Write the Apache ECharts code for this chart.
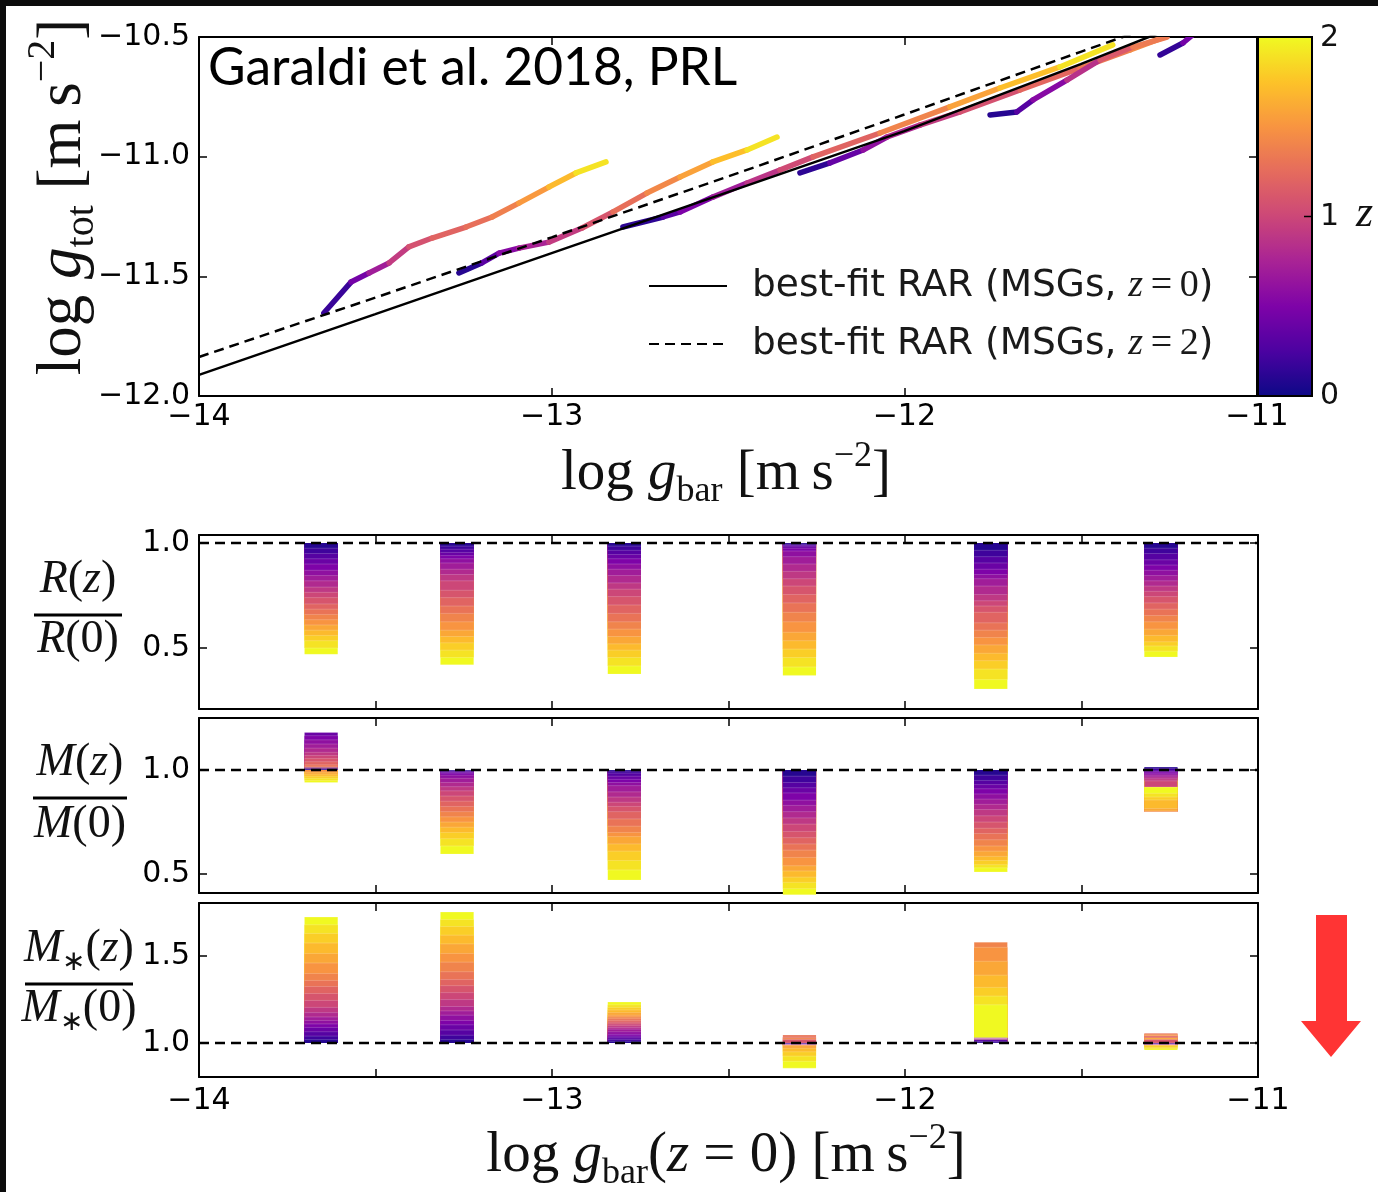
<!DOCTYPE html>
<html>
<head>
    <meta charset="UTF-8">
    <title>RAR evolution</title>
    <script src="https://cdn.jsdelivr.net/npm/echarts@6/dist/echarts.min.js"></script>
    <style>
        html, body { margin: 0; padding: 0; background: #fff; }
        #chart { width: 1378px; height: 1192px; }
    </style>
</head>
<body>
<div id="chart"></div>
<script>
    // bin centres (log g_bar at z=0) and the redshift steps of the bars
    var binX = [-13.654, -13.269, -12.795, -12.299, -11.757, -11.275];
    var zLevels = [0.1, 0.2, 0.3, 0.4, 0.5, 0.6, 0.7, 0.8, 0.9, 1.0, 1.1, 1.2, 1.3, 1.4, 1.5, 1.6, 1.7, 1.8, 1.9, 2.0];

    // R(z)/R(0), one row per bin, one value per z level
    var rRatio = [
        [0.975, 0.95, 0.925, 0.9, 0.87, 0.845, 0.82, 0.79, 0.765, 0.74, 0.71, 0.685, 0.66, 0.635, 0.61, 0.585, 0.56, 0.535, 0.50, 0.47],
        [0.985, 0.97, 0.955, 0.94, 0.925, 0.905, 0.875, 0.85, 0.82, 0.775, 0.74, 0.70, 0.665, 0.625, 0.585, 0.555, 0.525, 0.49, 0.455, 0.42],
        [0.985, 0.965, 0.945, 0.925, 0.9, 0.875, 0.845, 0.81, 0.78, 0.745, 0.705, 0.665, 0.625, 0.59, 0.555, 0.52, 0.49, 0.455, 0.415, 0.376],
        [0.995, 0.99, 0.985, 0.975, 0.962, 0.935, 0.90, 0.865, 0.83, 0.795, 0.755, 0.715, 0.67, 0.625, 0.575, 0.535, 0.495, 0.455, 0.41, 0.37],
        [0.965, 0.935, 0.905, 0.875, 0.85, 0.83, 0.795, 0.755, 0.725, 0.70, 0.67, 0.62, 0.585, 0.55, 0.515, 0.475, 0.44, 0.40, 0.35, 0.305],
        [0.975, 0.95, 0.92, 0.895, 0.87, 0.845, 0.82, 0.795, 0.77, 0.745, 0.715, 0.685, 0.655, 0.625, 0.59, 0.56, 0.53, 0.51, 0.485, 0.457]
    ];
    // M(z)/M(0)
    var mRatio = [
        [1.003, 1.008, 1.015, 1.18, 1.165, 1.145, 1.125, 1.105, 1.085, 1.07, 1.055, 1.04, 1.025, 1.012, 0.99, 0.98, 0.97, 0.96, 0.95, 0.94],
        [0.998, 0.995, 0.99, 0.985, 0.975, 0.96, 0.94, 0.92, 0.90, 0.875, 0.85, 0.825, 0.80, 0.775, 0.75, 0.725, 0.70, 0.67, 0.635, 0.596],
        [0.995, 0.985, 0.97, 0.955, 0.94, 0.925, 0.895, 0.87, 0.845, 0.825, 0.80, 0.765, 0.73, 0.70, 0.68, 0.645, 0.61, 0.565, 0.52, 0.471],
        [0.97, 0.94, 0.915, 0.89, 0.855, 0.83, 0.80, 0.77, 0.74, 0.705, 0.675, 0.645, 0.615, 0.58, 0.54, 0.515, 0.485, 0.46, 0.43, 0.40],
        [0.975, 0.95, 0.93, 0.91, 0.885, 0.86, 0.835, 0.81, 0.78, 0.75, 0.72, 0.695, 0.665, 0.635, 0.61, 0.585, 0.565, 0.545, 0.53, 0.51],
        [1.014, 1.008, 0.995, 0.99, 0.982, 0.975, 0.967, 0.958, 0.948, 0.918, 0.80, 0.80, 0.80, 0.798, 0.80, 0.803, 0.815, 0.856, 0.87, 0.888]
    ];
    // M*(z)/M*(0)
    var msRatio = [
        [1.02, 1.04, 1.065, 1.09, 1.11, 1.13, 1.15, 1.175, 1.205, 1.245, 1.285, 1.325, 1.36, 1.40, 1.46, 1.515, 1.575, 1.63, 1.68, 1.724],
        [1.02, 1.045, 1.075, 1.105, 1.13, 1.16, 1.185, 1.21, 1.25, 1.29, 1.33, 1.365, 1.41, 1.465, 1.515, 1.57, 1.62, 1.67, 1.71, 1.753],
        [1.01, 1.02, 1.03, 1.04, 1.05, 1.065, 1.08, 1.09, 1.10, 1.11, 1.12, 1.13, 1.14, 1.15, 1.16, 1.175, 1.19, 1.205, 1.22, 1.236],
        [0.999, 0.998, 0.997, 0.996, 0.995, 0.994, 0.993, 0.992, 0.991, 0.99, 1.02, 1.035, 1.046, 1.03, 0.985, 0.97, 0.95, 0.925, 0.895, 0.856],
        [1.005, 1.01, 1.02, 1.03, 1.029, 1.028, 1.027, 1.026, 1.025, 1.024, 1.023, 1.022, 1.021, 1.58, 1.55, 1.47, 1.39, 1.32, 1.27, 1.22],
        [0.999, 0.998, 0.997, 0.996, 0.995, 0.994, 0.993, 0.992, 0.991, 0.99, 1.02, 1.04, 1.057, 1.052, 1.045, 1.03, 0.985, 0.975, 0.968, 0.96]
    ];

    // galaxy tracks in the top panel: log g_bar, log g_tot, z
    var trackX = [
        [-13.646, -13.569, -13.518, -13.461, -13.405, -13.339, -13.243, -13.169, -13.093, -13.008, -12.931, -12.846],
        [-13.263, -13.198, -13.149, -13.093, -13.008, -12.914, -12.826, -12.730, -12.636, -12.543, -12.446, -12.361],
        [-12.798, -12.684, -12.636, -12.543, -12.446, -12.353, -12.259, -12.069, -11.871, -11.729, -11.559, -11.409],
        [-12.296, -12.211, -12.117, -12.049, -11.956, -11.842, -11.672, -11.502, -11.360, -11.261],
        [-11.757, -11.681, -11.635, -11.539, -11.445, -11.352, -11.255],
        [-11.275, -11.210, -11.176]
    ];
    var trackY = [
        [-11.653, -11.524, -11.486, -11.444, -11.377, -11.340, -11.294, -11.252, -11.194, -11.127, -11.068, -11.022],
        [-11.486, -11.444, -11.403, -11.382, -11.357, -11.298, -11.231, -11.152, -11.085, -11.022, -10.972, -10.918],
        [-11.294, -11.252, -11.231, -11.169, -11.110, -11.056, -11.001, -10.901, -10.792, -10.713, -10.625, -10.533],
        [-11.068, -11.026, -10.972, -10.918, -10.868, -10.813, -10.721, -10.630, -10.554, -10.500],
        [-10.826, -10.813, -10.763, -10.680, -10.596, -10.542, -10.500],
        [-10.575, -10.525, -10.483]
    ];
    var trackZ = [
        [0, 0.35, 0.55, 0.85, 1.0, 1.15, 1.25, 1.3, 1.45, 1.6, 1.8, 2.0],
        [0, 0.2, 0.45, 0.65, 0.85, 1.0, 1.2, 1.35, 1.5, 1.65, 1.8, 2.0],
        [0, 0.25, 0.4, 0.6, 0.8, 0.95, 1.1, 1.3, 1.5, 1.65, 1.8, 2.0],
        [0, 0.25, 0.5, 0.7, 0.85, 1.0, 1.15, 1.3, 1.4, 1.5],
        [0, 0.2, 0.4, 0.7, 1.0, 1.25, 1.45],
        [0, 0.3, 0.6]
    ];

    // best-fit RAR curves
    var rarX = [-14, -13.5, -13, -12.5, -12, -11.5, -11.3, -11];
    var rarZ0 = [-11.912, -11.658, -11.403, -11.148, -10.893, -10.613, -10.496, -10.33];
    var rarZ2 = [-11.837, -11.589, -11.337, -11.083, -10.824, -10.562, -10.458, -10.30];

    var plasma = ['#0d0887', '#4c02a1', '#7e03a8', '#a92395', '#cc4778', '#e56b5d', '#f89441', '#fdc328', '#f0f921'];
    var serif = 'Liberation Serif';
    var sans = 'DejaVu Sans';
    var barW = 0.094;
    var MINUS = '\u2212';

    function pairs(xs, ys) {
        return xs.map(function (x, i) { return [x, ys[i]]; });
    }

    function segData() {
        var out = [];
        for (var t = 0; t < trackX.length; t++) {
            for (var i = 0; i < trackX[t].length - 1; i++) {
                out.push([trackX[t][i], trackY[t][i], (trackZ[t][i] + trackZ[t][i + 1]) / 2,
                    trackX[t][i + 1], trackY[t][i + 1]]);
            }
        }
        return out;
    }

    // longest bands first so shorter ones paint over them
    function bandData(ratios) {
        var out = [];
        ratios.forEach(function (row, b) {
            row.forEach(function (v, k) { out.push([binX[b], v, zLevels[k]]); });
        });
        out.sort(function (p, q) { return Math.abs(q[1] - 1) - Math.abs(p[1] - 1); });
        return out;
    }

    function renderSeg(params, api) {
        var a = api.coord([api.value(0), api.value(1)]);
        var b = api.coord([api.value(3), api.value(4)]);
        return {
            type: 'line',
            shape: {x1: a[0], y1: a[1], x2: b[0], y2: b[1]},
            style: {stroke: api.visual('color'), lineWidth: 5.5, lineCap: 'round'}
        };
    }

    function renderBand(params, api) {
        var x = api.value(0), v = api.value(1);
        var a = api.coord([x - barW / 2, 1]);
        var b = api.coord([x + barW / 2, v]);
        return {
            type: 'group',
            children: [{
                type: 'rect',
                shape: {x: a[0], y: Math.min(a[1], b[1]), width: b[0] - a[0], height: Math.abs(b[1] - a[1])},
                style: {fill: api.visual('color')}
            }, {
                type: 'line',
                shape: {x1: a[0], y1: b[1], x2: b[0], y2: b[1]},
                style: {stroke: 'rgba(255,255,255,0.2)', lineWidth: 1}
            }]
        };
    }

    function fmt1(v) { return v.toFixed(1).replace('-', MINUS); }
    function fmtInt(v) { return Math.abs(v - Math.round(v)) < 1e-6 ? String(Math.round(v)).replace('-', MINUS) : ''; }

    var tickStyle = {show: true, inside: true, length: 8, lineStyle: {color: '#000', width: 1.5}};
    var lineStyleAx = {show: true, lineStyle: {color: '#000', width: 2}};
    var labelStyle = {fontFamily: sans, fontSize: 30, color: '#000'};

    var grids = [
        {left: 199, top: 37, width: 1058, height: 359},
        {left: 199, top: 535, width: 1059, height: 174},
        {left: 199, top: 718, width: 1059, height: 175},
        {left: 199, top: 903, width: 1059, height: 174}
    ];
    var yRange = [[-12, -10.5], [0.21, 1.038], [0.409, 1.25], [0.805, 1.805]];
    var yTicks = [null, [0.5, 1.0], [0.5, 1.0], [1.0, 1.5]];

    var xAxes = [], yAxes = [];
    grids.forEach(function (g, i) {
        var top = i === 0;
        var xl = Object.assign({}, labelStyle, {
            show: i === 0 || i === 3,
            margin: i === 0 ? 6 : 9,
            formatter: fmtInt
        });
        xAxes.push({
            type: 'value', gridIndex: i, min: -14, max: -11, interval: top ? 1 : 0.5,
            position: 'bottom', axisLine: lineStyleAx, axisTick: tickStyle,
            splitLine: {show: false}, axisLabel: xl
        });
        xAxes.push({
            type: 'value', gridIndex: i, min: -14, max: -11, interval: top ? 1 : 0.5,
            position: 'top', axisLine: lineStyleAx, axisTick: tickStyle,
            splitLine: {show: false}, axisLabel: {show: false}
        });
        var yl = Object.assign({}, labelStyle, {margin: 9, formatter: fmt1});
        var yt = Object.assign({}, tickStyle);
        if (yTicks[i]) {
            yl.customValues = yTicks[i];
            yt.customValues = yTicks[i];
        }
        var ya = {
            type: 'value', gridIndex: i, min: yRange[i][0], max: yRange[i][1],
            position: 'left', axisLine: lineStyleAx, axisTick: yt,
            splitLine: {show: false}, axisLabel: yl
        };
        if (top) ya.interval = 0.5;
        yAxes.push(ya);
        var yb = Object.assign({}, ya, {position: 'right', axisLabel: {show: false}});
        yAxes.push(yb);
    });

    function refLine(g) {
        return {
            type: 'line', xAxisIndex: 2 * g, yAxisIndex: 2 * g, z: 4, symbol: 'none', silent: true,
            data: [[-14, 1], [-11, 1]],
            lineStyle: {color: '#000', width: 2.5, type: [10, 6]}
        };
    }

    function bandSeries(g, ratios) {
        return {
            type: 'custom', xAxisIndex: 2 * g, yAxisIndex: 2 * g, z: 2,
            renderItem: renderBand, encode: {x: 0, y: 1}, data: bandData(ratios)
        };
    }

    function titleRich(size) {
        var s = Math.round(size * 0.63);
        return {
            a: {fontFamily: serif, fontSize: size, lineHeight: size * 1.26, fill: '#111'},
            i: {fontFamily: serif, fontStyle: 'italic', fontSize: size, lineHeight: size * 1.26, fill: '#111'},
            sub: {fontFamily: serif, fontSize: s, lineHeight: size * 0.46, verticalAlign: 'bottom', fill: '#111'},
            sup: {fontFamily: serif, fontSize: s, lineHeight: size * 0.46, verticalAlign: 'top', fill: '#111'}
        };
    }
    var richFrac = {
        i: {fontFamily: serif, fontStyle: 'italic', fontSize: 46, lineHeight: 56, fill: '#111'},
        u: {fontFamily: serif, fontSize: 46, lineHeight: 56, fill: '#111'},
        s: {fontFamily: serif, fontSize: 28, lineHeight: 28, verticalAlign: 'bottom', fill: '#111'}
    };

    function frac(cx, yNum, yLine, yDen, halfW, num, den) {
        return [
            {type: 'text', x: cx, y: yNum, style: {text: num, rich: richFrac, align: 'center', verticalAlign: 'middle'}},
            {type: 'rect', shape: {x: cx - halfW, y: yLine - 1.5, width: 2 * halfW, height: 3}, style: {fill: '#000'}},
            {type: 'text', x: cx, y: yDen, style: {text: den, rich: richFrac, align: 'center', verticalAlign: 'middle'}}
        ];
    }

    var graphics = [
        // dark frame of the screenshot
        {type: 'rect', shape: {x: 0, y: 0, width: 1378, height: 6}, style: {fill: '#0c0c0c'}},
        {type: 'rect', shape: {x: 0, y: 0, width: 6, height: 1192}, style: {fill: '#0c0c0c'}},
        {type: 'text', x: 208, y: 68, z: 10, style: {
            text: 'Garaldi et al. 2018, PRL', fontFamily: 'Lato', fontSize: 51.5,
            verticalAlign: 'middle', fill: '#000'}},
        {type: 'text', x: 63, y: 197, rotation: Math.PI / 2, style: {
            text: '{a|log }{i|g}{sub|tot}{a| [m\u2009s}{sup|' + MINUS + '2}{a|]}',
            rich: titleRich(63), align: 'center', verticalAlign: 'middle'}},
        {type: 'text', x: 726, y: 474, style: {
            text: '{a|log }{i|g}{sub|bar}{a| [m\u2009s}{sup|' + MINUS + '2}{a|]}',
            rich: titleRich(57), align: 'center', verticalAlign: 'middle'}},
        {type: 'text', x: 726, y: 1156, style: {
            text: '{a|log }{i|g}{sub|bar}{a|(}{i|z}{a|\u2005=\u20050) [m\u2009s}{sup|' + MINUS + '2}{a|]}',
            rich: titleRich(57), align: 'center', verticalAlign: 'middle'}},
        // colour bar frame, tick and labels
        {type: 'rect', z: 20, shape: {x: 1258, y: 37, width: 54, height: 359}, style: {fill: 'none', stroke: '#000', lineWidth: 2}},
        {type: 'line', z: 20, shape: {x1: 1304, y1: 216.5, x2: 1312, y2: 216.5}, style: {stroke: '#000', lineWidth: 1.5}},
        {type: 'text', x: 1320, y: 38, style: {text: '2', fontFamily: sans, fontSize: 30, fill: '#111', verticalAlign: 'middle'}},
        {type: 'text', x: 1320, y: 217, style: {text: '1', fontFamily: sans, fontSize: 30, fill: '#111', verticalAlign: 'middle'}},
        {type: 'text', x: 1320, y: 396, style: {text: '0', fontFamily: sans, fontSize: 30, fill: '#111', verticalAlign: 'middle'}},
        {type: 'text', x: 1356, y: 214, style: {text: 'z', fontFamily: serif, fontStyle: 'italic', fontSize: 44, fill: '#111', verticalAlign: 'middle'}},
        // red arrow
        {type: 'polygon', shape: {points: [[1316, 915], [1347, 915], [1347, 1021], [1361, 1021], [1331, 1057], [1301, 1021], [1316, 1021]]},
            style: {fill: '#ff3434'}}
    ];
    graphics = graphics
        .concat(frac(78, 580, 615, 640, 44, '{i|R}{u|(}{i|z}{u|)}', '{i|R}{u|(0)}'))
        .concat(frac(80, 763, 798, 825, 47, '{i|M}{u|(}{i|z}{u|)}', '{i|M}{u|(0)}'))
        .concat(frac(79, 949, 984, 1009, 54, '{i|M}{s|\u2217}{u|(}{i|z}{u|)}', '{i|M}{s|\u2217}{u|(0)}'));

    var chart = echarts.init(document.getElementById('chart'), null, {renderer: 'canvas'});
    chart.setOption({
        backgroundColor: '#fff',
        animation: false,
        grid: grids,
        xAxis: xAxes,
        yAxis: yAxes,
        legend: {
            data: ['rar0', 'rar2'],
            orient: 'vertical', left: 643, top: 262, itemWidth: 78, itemHeight: 14, itemGap: 20,
            itemStyle: {color: 'rgba(0,0,0,0)', borderColor: 'rgba(0,0,0,0)', borderWidth: 0},
            formatter: function (name) {
                var zt = name === 'rar0' ? '0' : '2';
                return '{t|best-fit RAR (MSGs, }{m|z}{n|\u2009=\u2009' + zt + '}{t|)}';
            },
            textStyle: {
                padding: [0, 0, 0, 20],
                rich: {
                    t: {fontFamily: sans, fontSize: 37.5, lineHeight: 44, color: '#1a1a1a'},
                    m: {fontFamily: serif, fontStyle: 'italic', fontSize: 38, lineHeight: 44, color: '#1a1a1a'},
                    n: {fontFamily: serif, fontSize: 38, lineHeight: 44, color: '#1a1a1a'}
                }
            }
        },
        visualMap: {
            type: 'continuous', min: 0, max: 2, dimension: 2, seriesIndex: [0, 3, 5, 7],
            calculable: false, orient: 'vertical', left: 1258, top: 37, itemWidth: 54, itemHeight: 359,
            padding: 0, inRange: {color: plasma}
        },
        graphic: graphics,
        series: [
            {type: 'custom', name: 'tracks', xAxisIndex: 0, yAxisIndex: 0, z: 2, clip: true,
                renderItem: renderSeg, encode: {x: 0, y: 1}, data: segData()},
            {type: 'line', name: 'rar0', xAxisIndex: 0, yAxisIndex: 0, z: 4, symbol: 'none', silent: true,
                data: pairs(rarX, rarZ0), lineStyle: {color: '#000', width: 2.5}, itemStyle: {color: '#000'}},
            {type: 'line', name: 'rar2', xAxisIndex: 0, yAxisIndex: 0, z: 4, symbol: 'none', silent: true,
                data: pairs(rarX, rarZ2), lineStyle: {color: '#000', width: 2.5, type: [10, 6]}, itemStyle: {color: '#000'}},
            bandSeries(1, rRatio),
            refLine(1),
            bandSeries(2, mRatio),
            refLine(2),
            bandSeries(3, msRatio),
            refLine(3)
        ]
    });
</script>
</body>
</html>
